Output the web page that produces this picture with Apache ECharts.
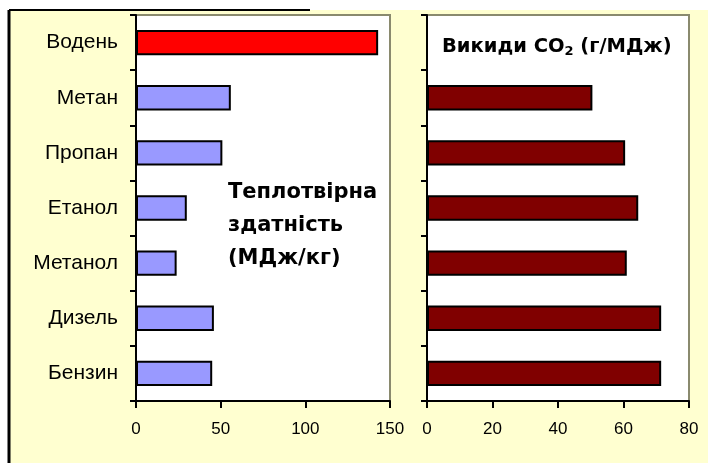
<!DOCTYPE html>
<html>
<head>
<meta charset="utf-8">
<script src="https://cdn.jsdelivr.net/npm/echarts@6/dist/echarts.min.js"></script>
<style>
  html, body { margin: 0; padding: 0; background: #ffffff; }
  #chart { width: 708px; height: 463px; }
</style>
</head>
<body>
<div id="chart"></div>
<script>
// Fuel categories, top to bottom
const fuels = ['Водень', 'Метан', 'Пропан', 'Етанол', 'Метанол', 'Дизель', 'Бензин'];
// Heating value, MJ/kg
const heatValue = [143, 56, 51, 30, 24, 46, 45];
// CO2 emissions, g/MJ (none for hydrogen)
const co2Emission = [null, 50.5, 60.5, 64.5, 61, 71.5, 71.5];
// Value-axis settings
const heatTicks = { min: 0, max: 150, interval: 50 };
const co2Ticks = { min: 0, max: 80, interval: 20 };

const chart = echarts.init(document.getElementById('chart'), null, { renderer: 'canvas' });

const labelFont = 'Liberation Sans, Arial, sans-serif';
const plotBorder = '#8a8a6e';

const heatData = heatValue.map((v, i) => ({
  value: v,
  itemStyle: { color: i === 0 ? '#ff0000' : '#9999ff' }
}));

function catAxis(gridIndex, showLabels) {
  return {
    type: 'category', gridIndex, data: fuels, inverse: true,
    axisLine: { show: true, lineStyle: { color: '#000', width: 2 } },
    axisTick: { show: true, length: 6, lineStyle: { color: '#000', width: 2 } },
    axisLabel: {
      show: showLabels, color: '#000', fontSize: 21, fontFamily: labelFont, margin: 18
    },
    splitLine: { show: false }
  };
}

function valAxis(gridIndex, ticks) {
  return {
    type: 'value', gridIndex, min: ticks.min, max: ticks.max, interval: ticks.interval,
    axisLine: { show: true, onZero: false, lineStyle: { color: '#000', width: 2 } },
    axisTick: { show: true, length: 7, lineStyle: { color: '#000', width: 2 } },
    axisLabel: { color: '#000', fontSize: 17, fontFamily: labelFont, margin: 20 },
    splitLine: { show: false }
  };
}

chart.setOption({
  backgroundColor: '#ffffff',
  animation: false,
  graphic: [
    { type: 'rect', shape: { x: 9, y: 10, width: 699, height: 453 }, style: { fill: '#ffffd0' }, z: -10 },
    { type: 'line', shape: { x1: 9, y1: 10, x2: 310, y2: 10 }, style: { stroke: '#000', lineWidth: 2 }, z: -5 },
    { type: 'line', shape: { x1: 9, y1: 10, x2: 9, y2: 463 }, style: { stroke: '#000', lineWidth: 3 }, z: -5 }
  ],
  title: [
    {
      text: 'Теплотвірна\nздатність\n(МДж/кг)',
      left: 223, top: 171,
      textStyle: {
        fontFamily: 'DejaVu Sans, sans-serif', fontWeight: 'bold', fontSize: 21,
        lineHeight: 33, color: '#000'
      }
    },
    {
      text: '{t|Викиди CO}{s|2}{t| (г/МДж)}',
      left: 437, top: 31,
      textStyle: {
        rich: {
          t: { fontFamily: 'DejaVu Sans, sans-serif', fontWeight: 'bold', fontSize: 19.5, color: '#000' },
          s: { fontFamily: 'DejaVu Sans, sans-serif', fontWeight: 'bold', fontSize: 13, color: '#000', padding: [9, 0, 0, 0] }
        }
      }
    }
  ],
  grid: [
    { left: 136, right: 318, top: 15, bottom: 62, show: true, backgroundColor: '#ffffff', borderColor: plotBorder, borderWidth: 2 },
    { left: 427, right: 19, top: 15, bottom: 62, show: true, backgroundColor: '#ffffff', borderColor: plotBorder, borderWidth: 2 }
  ],
  xAxis: [valAxis(0, heatTicks), valAxis(1, co2Ticks)],
  yAxis: [catAxis(0, true), catAxis(1, false)],
  series: [
    {
      type: 'bar', xAxisIndex: 0, yAxisIndex: 0, data: heatData, barWidth: '46%',
      itemStyle: { borderColor: '#000', borderWidth: 2 }
    },
    {
      type: 'bar', xAxisIndex: 1, yAxisIndex: 1, data: co2Emission, barWidth: '46%',
      itemStyle: { color: '#800000', borderColor: '#000', borderWidth: 2 }
    }
  ]
});
</script>
</body>
</html>
